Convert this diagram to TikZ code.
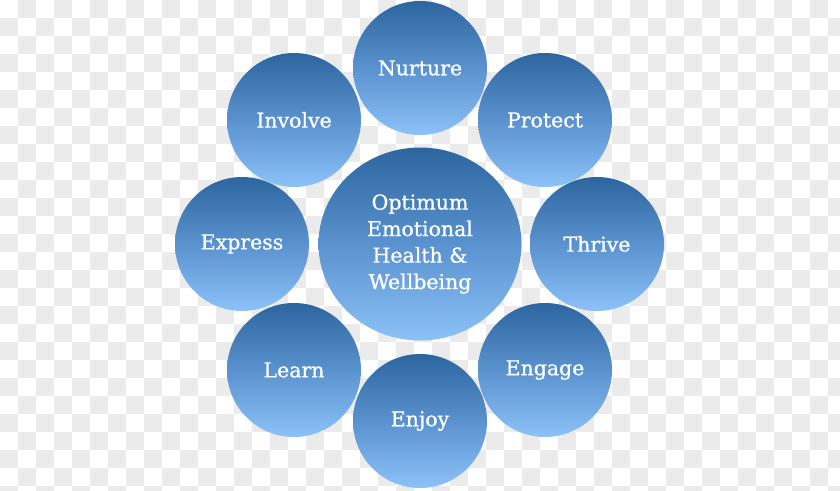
\documentclass[tikz,border=0pt]{standalone}
\usepackage{fontspec}
\setmainfont{DejaVu Serif}
\newfontfamily\ballfont{DejaVu Serif}[FakeBold=0.8]
\usetikzlibrary{shapes.geometric}
\definecolor{checkgray}{HTML}{EBEBEB}
\definecolor{balltop}{HTML}{2D659F}
\definecolor{ballmid}{HTML}{5A92CF}
\definecolor{ballbot}{HTML}{8CC2F8}
\tikzset{
  ball/.style={circle, minimum size=134pt, inner sep=0pt, top color=balltop, bottom color=ballbot, middle color=ballmid, draw=none, text=white, font=\ballfont\fontsize{20.5}{24}\selectfont},
  hubball/.style={ellipse, minimum width=203pt, minimum height=193pt, inner sep=0pt, top color=balltop, bottom color=ballbot, middle color=ballmid, draw=none, text=white, align=center, font=\ballfont\fontsize{20.5}{26.5}\selectfont}
}
\begin{document}
\begin{tikzpicture}[x=1pt,y=-1pt]
\useasboundingbox (0,0) rectangle (840,490);
\fill[white] (0,0) rectangle (840,490);
\foreach \i in {0,...,46}{
  \foreach \j in {0,...,27}{
    \ifodd\numexpr\i+\j\relax
      \fill[checkgray] (\i*18,\j*18) rectangle ++(18,18);
    \fi
  }
}
\node[hubball] (hub) at (420,244) {Optimum\\Emotional\\Health \&\\Wellbeing};
\node[ball] (nurture) at (420,68) {Nurture};
\node[ball] (protect) at (545,120) {Protect};
\node[ball] (thrive) at (597,244) {Thrive};
\node[ball] (engage) at (545,370) {Engage};
\node[ball] (enjoy) at (420,421) {Enjoy};
\node[ball] (learn) at (294,370) {Learn};
\node[ball] (express) at (242,244) {Express};
\node[ball] (involve) at (294,120) {Involve};
\end{tikzpicture}
\end{document}
